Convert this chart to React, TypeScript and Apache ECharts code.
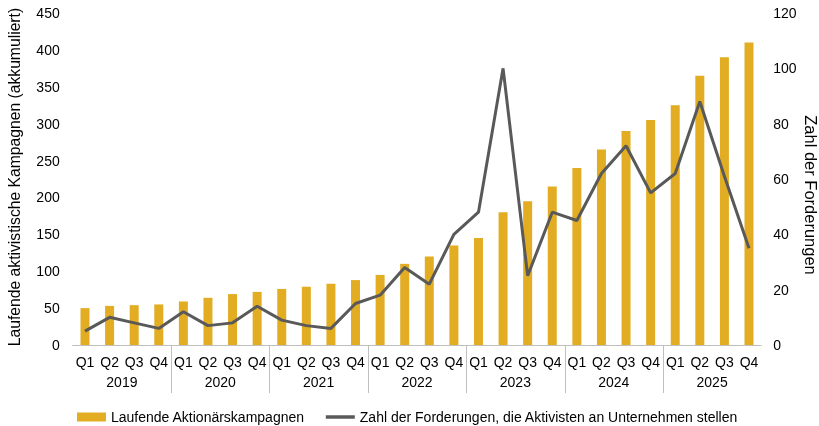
import React, { useEffect, useRef } from "react";
import * as echarts from "echarts";

const quarters = [
  "Q1","Q2","Q3","Q4","Q1","Q2","Q3","Q4","Q1","Q2","Q3","Q4","Q1","Q2",
  "Q3","Q4","Q1","Q2","Q3","Q4","Q1","Q2","Q3","Q4","Q1","Q2","Q3","Q4",
];
const years = ["2019", "2020", "2021", "2022", "2023", "2024", "2025"];
const campaigns = [
  50, 53, 54, 55, 59, 64, 69, 72, 76, 79, 83, 88, 95, 110,
  120, 135, 145, 180, 195, 215, 240, 265, 290, 305, 325, 365, 390, 410,
];
const demands = [
  5, 10, 8, 6, 12, 7, 8, 14, 9, 7, 6, 15, 18, 28,
  22, 40, 48, 100, 25, 48, 45, 62, 72, 55, 62, 88, 61, 35,
];
const barName = "Laufende Aktionärskampagnen";
const lineName = "Zahl der Forderungen, die Aktivisten an Unternehmen stellen";
const leftName = "Laufende aktivistische Kampagnen (akkumuliert)";
const rightName = "Zahl der Forderungen";

const FONT = "'Liberation Sans', Arial, sans-serif";

// index of the first quarter of every year after the first (year separators)
const yearStarts = years.slice(1).map((_, i) => [(i + 1) * 4]);

export default function App() {
  const ref = useRef<HTMLDivElement>(null);
  useEffect(() => {
    if (!ref.current) return;
    const chart = echarts.init(ref.current, undefined, { renderer: "svg" });
    chart.setOption({
      animation: false,
      textStyle: { fontFamily: FONT, color: "#000" },
      grid: { left: 72.7, right: 57.7, top: 13, bottom: 81, containLabel: false },
      legend: {
        left: 72,
        top: 405,
        itemWidth: 29,
        itemHeight: 9,
        itemGap: 21,
        textStyle: { fontFamily: FONT, fontSize: 14, color: "#000" },
        data: [
          { name: barName, icon: "rect" },
          { name: lineName, icon: "path://M0 0H25V3H0Z" },
        ],
      },
      xAxis: [
        {
          type: "category",
          data: quarters,
          axisLine: { lineStyle: { color: "#BFBFBF", width: 1 } },
          axisTick: { show: false },
          axisLabel: { interval: 0, fontSize: 14, color: "#000", margin: 10 },
        },
        {
          type: "category",
          data: years,
          position: "bottom",
          offset: 22,
          axisLine: { show: false },
          axisTick: { show: false },
          axisLabel: { interval: 0, fontSize: 14, color: "#000", margin: 8 },
        },
      ],
      yAxis: [
        {
          type: "value",
          min: 0,
          max: 450,
          interval: 50,
          splitLine: { show: false },
          axisLine: { show: false },
          axisTick: { show: false },
          axisLabel: { fontSize: 14, color: "#000", margin: 13 },
        },
        {
          type: "value",
          min: 0,
          max: 120,
          interval: 20,
          position: "right",
          splitLine: { show: false },
          axisLine: { show: false },
          axisTick: { show: false },
          axisLabel: { fontSize: 14, color: "#000", margin: 12 },
        },
      ],
      graphic: [
        {
          type: "text",
          x: 14,
          y: 177,
          rotation: Math.PI / 2,
          style: {
            text: leftName,
            fontFamily: FONT,
            fontSize: 15.7,
            fill: "#000",
            textAlign: "center",
            textVerticalAlign: "middle",
          },
        },
        {
          type: "text",
          x: 811,
          y: 195,
          rotation: -Math.PI / 2,
          style: {
            text: rightName,
            fontFamily: FONT,
            fontSize: 16.5,
            fill: "#000",
            textAlign: "center",
            textVerticalAlign: "middle",
          },
        },
      ],
      series: [
        {
          name: "separators",
          type: "custom",
          xAxisIndex: 0,
          yAxisIndex: 0,
          clip: false,
          silent: true,
          data: yearStarts,
          renderItem: (params: any, api: any) => {
            const p = api.coord([api.value(0), 0]);
            const w = api.size([1, 0])[0];
            const x = Math.round(p[0] - w / 2) + 0.5;
            return {
              type: "line",
              shape: { x1: x, y1: p[1], x2: x, y2: p[1] + 48 },
              style: { stroke: "#BFBFBF", lineWidth: 1 },
            };
          },
        },
        {
          name: barName,
          type: "bar",
          data: campaigns,
          barWidth: 9,
          itemStyle: { color: "#E2AD22" },
          xAxisIndex: 0,
          yAxisIndex: 0,
        },
        {
          name: lineName,
          type: "line",
          data: demands,
          yAxisIndex: 1,
          xAxisIndex: 0,
          showSymbol: false,
          symbol: "none",
          lineStyle: { color: "#595959", width: 3 },
          itemStyle: { color: "#595959" },
        },
      ],
    });
    return () => chart.dispose();
  }, []);
  return (
    <div
      ref={ref}
      style={{ position: "fixed", left: 0, top: 0, width: 819, height: 426 }}
    />
  );
}
